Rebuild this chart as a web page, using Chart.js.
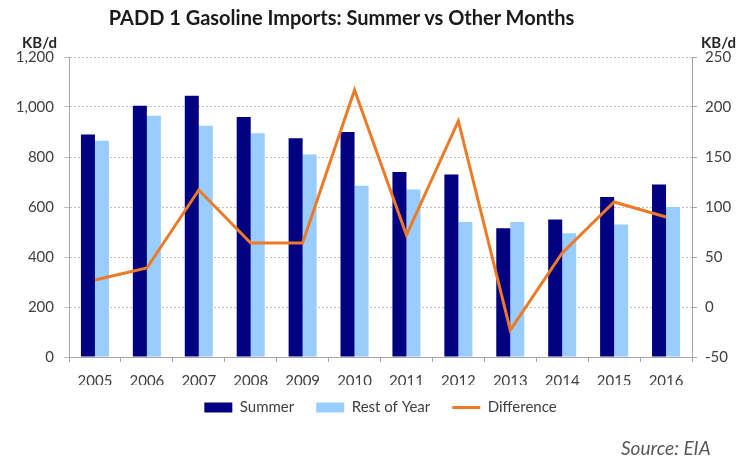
<!DOCTYPE html>
<html>
<head>
<meta charset="utf-8">
<script src="https://cdn.jsdelivr.net/npm/chart.js@4.4.1/dist/chart.umd.min.js"></script>
<style>
  html, body { margin: 0; padding: 0; background: #fff; }
  #wrap { position: relative; width: 743px; height: 460px; font-family: Lato, "Open Sans", sans-serif; color: #404040; }
  #chart { position: absolute; left: 0; top: 0; }
  .lbl { position: absolute; white-space: nowrap; }
  #title { left: 0; width: 683px; top: 5px; text-align: center; font-size: 20px; font-weight: bold; color: #1a1a1a; }
  #unitL { left: 22px; top: 33px; font-size: 15px; font-weight: bold; color: #262626; }
  #unitR { left: 701px; top: 33px; font-size: 15px; font-weight: bold; color: #262626; }
  #source { left: 621px; top: 436px; font-size: 19px; font-style: italic; color: #595959; }
</style>
</head>
<body>
<div id="wrap">
  <canvas id="chart" width="743" height="460"></canvas>
  <div class="lbl" id="title">PADD 1 Gasoline Imports: Summer vs Other Months</div>
  <div class="lbl" id="unitL">KB/d</div>
  <div class="lbl" id="unitR">KB/d</div>
  <div class="lbl" id="source">Source: EIA</div>
</div>
<script>
// years on the x axis
const years = ['2005', '2006', '2007', '2008', '2009', '2010', '2011', '2012', '2013', '2014', '2015', '2016'];
// imports, KB/d
const summer = [890, 1005, 1045, 960, 875, 900, 740, 730, 515, 550, 640, 690];
const restOfYear = [865, 965, 925, 895, 810, 685, 670, 540, 540, 495, 530, 600];
// summer minus rest of year, right axis
const difference = [27, 39, 117, 64, 64, 217, 72, 186, -23, 54, 105, 90];

const leftTicks = [0, 200, 400, 600, 800, 1000, 1200];
const rightTicks = [-50, 0, 50, 100, 150, 200, 250];

const fontBase = { family: 'Lato, "Open Sans", sans-serif', size: 15 };
const textColor = '#404040';
const axisColor = '#A6A6A6';

// legend padding is wide for spacing between items, pull the row up a bit
const legendLift = {
    id: 'legendLift',
    afterLayout(chart) {
        chart.legend.top -= 7;
        chart.legend.bottom -= 7;
    }
};

const chart = new Chart(document.getElementById('chart'), {
    type: 'bar',
    data: {
        labels: years,
        datasets: [
            {
                label: 'Summer',
                data: summer,
                backgroundColor: '#000080',
                pointStyle: 'rect',
                yAxisID: 'y',
                order: 1
            },
            {
                label: 'Rest of Year',
                data: restOfYear,
                backgroundColor: '#99CCFF',
                pointStyle: 'rect',
                yAxisID: 'y',
                order: 1
            },
            {
                type: 'line',
                label: 'Difference',
                data: difference,
                borderColor: '#EE7A26',
                backgroundColor: '#EE7A26',
                borderWidth: 3,
                borderJoinStyle: 'miter',
                pointRadius: 0,
                pointStyle: 'line',
                tension: 0,
                yAxisID: 'y1',
                order: 0
            }
        ]
    },
    plugins: [legendLift],
    options: {
        responsive: false,
        animation: false,
        layout: {
            padding: { top: 57, left: 0, right: 0, bottom: 28 }
        },
        datasets: {
            bar: { categoryPercentage: 0.54, barPercentage: 1.0 }
        },
        plugins: {
            legend: {
                position: 'bottom',
                fullSize: false,
                labels: {
                    usePointStyle: true,
                    pointStyleWidth: 28,
                    boxHeight: 10,
                    padding: 22,
                    color: textColor,
                    font: fontBase,
                    // keep dataset order, not draw order
                    sort: (a, b) => a.datasetIndex - b.datasetIndex
                }
            },
            tooltip: { enabled: false }
        },
        scales: {
            x: {
                grid: { drawOnChartArea: false, tickLength: 5, color: axisColor },
                border: { color: axisColor },
                ticks: { color: textColor, font: fontBase, padding: 10 },
                afterFit: (scale) => { scale.height = 28; }
            },
            y: {
                position: 'left',
                min: 0,
                max: 1200,
                afterBuildTicks: (scale) => { scale.ticks = leftTicks.map(v => ({ value: v })); },
                grid: { color: '#BFBFBF', tickLength: 5 },
                border: { color: axisColor, dash: [2, 2] },
                ticks: {
                    color: textColor,
                    font: fontBase,
                    padding: 10,
                    callback: (v) => v.toLocaleString('en-US')
                },
                afterFit: (scale) => { scale.width = 69; }
            },
            y1: {
                position: 'right',
                min: -50,
                max: 250,
                afterBuildTicks: (scale) => { scale.ticks = rightTicks.map(v => ({ value: v })); },
                grid: { drawOnChartArea: false, tickLength: 5, color: axisColor },
                border: { color: axisColor },
                ticks: { color: textColor, font: fontBase, padding: 8 },
                afterFit: (scale) => { scale.width = 51; }
            }
        }
    }
});
</script>
</body>
</html>
